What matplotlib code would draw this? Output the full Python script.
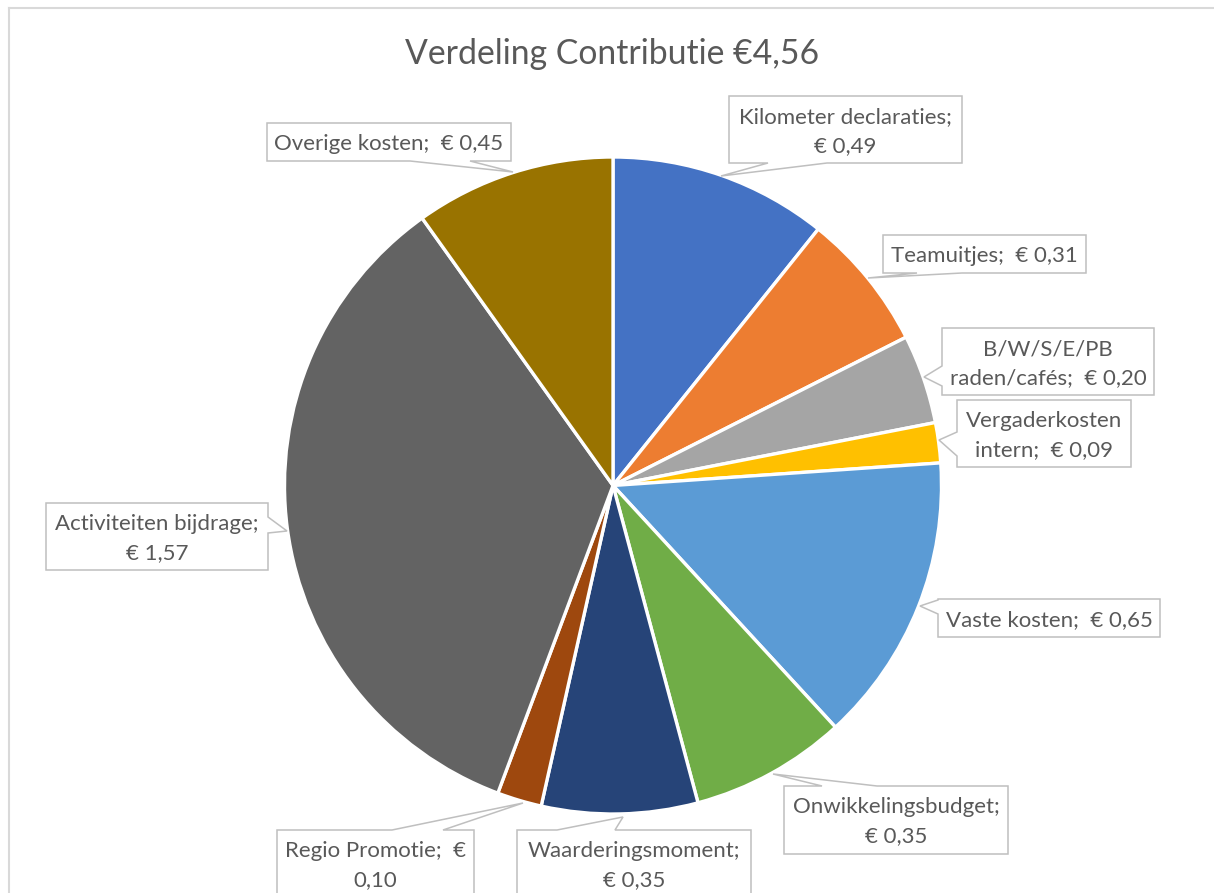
import matplotlib
matplotlib.use('Agg')
import matplotlib.pyplot as plt
from matplotlib.patches import Polygon

plt.rcParams['font.family'] = ['Lato', 'DejaVu Sans']

W, H = 1214, 893

title = 'Verdeling Contributie €4,56'
categories = ['Kilometer declaraties', 'Teamuitjes', 'B/W/S/E/PB raden/cafés',
              'Vergaderkosten intern', 'Vaste kosten', 'Onwikkelingsbudget',
              'Waarderingsmoment', 'Regio Promotie', 'Activiteiten bijdrage',
              'Overige kosten']
values = [0.49, 0.31, 0.20, 0.09, 0.65, 0.35, 0.35, 0.10, 1.57, 0.45]
colors = ['#4472C4', '#ED7D31', '#A5A5A5', '#FFC000', '#5B9BD5',
          '#70AD47', '#264478', '#9E480E', '#636363', '#997300']

# callout layout in pixels (y down): box, chars on first line, tail side, tail base, tip
layout = [
    dict(box=(729, 96, 962, 163), n1=22, side='bottom', base=(768, 827), tip=(721, 176)),
    dict(box=(883, 235, 1086, 273), n1=None, side='bottom', base=(917, 962), tip=(868, 278)),
    dict(box=(942, 328, 1154, 395), n1=10, side='left', base=(366, 386), tip=(924, 377)),
    dict(box=(957, 400, 1131, 467), n1=14, side='left', base=(432, 456), tip=(939, 440)),
    dict(box=(938, 599, 1160, 637), n1=None, side='left', base=(600, 614), tip=(920, 606)),
    dict(box=(784, 786, 1008, 854), n1=19, side='top', base=(822, 877), tip=(773, 774)),
    dict(box=(517, 830, 751, 905), n1=18, side='top', base=(557, 615), tip=(623, 817)),
    dict(box=(277, 830, 474, 905), n1=18, side='top', base=(392, 443), tip=(523, 803)),
    dict(box=(46, 503, 268, 570), n1=22, side='right', base=(517, 533), tip=(287, 531)),
    dict(box=(267, 123, 511, 161), n1=None, side='bottom', base=(410, 470), tip=(513, 172)),
]

txt_color = '#595959'
label_size = 16


def Y(y):
    return H - y


def callout_path(box, side, base, tip):
    x0, y0, x1, y1 = box
    pts = [(x0, y0)]
    if side == 'top':
        pts += [(base[0], y0), tip, (base[1], y0)]
    pts.append((x1, y0))
    if side == 'right':
        pts += [(x1, base[0]), tip, (x1, base[1])]
    pts.append((x1, y1))
    if side == 'bottom':
        pts += [(base[1], y1), tip, (base[0], y1)]
    pts.append((x0, y1))
    if side == 'left':
        pts += [(x0, base[1]), tip, (x0, base[0])]
    return [(x, Y(y)) for x, y in pts]


fig = plt.figure(figsize=(W / 100, H / 100), dpi=100)
ax = fig.add_axes([0, 0, 1, 1])

ax.pie(values, colors=colors, startangle=90, counterclock=False,
       center=(613, Y(485.5)), radius=328.5,
       wedgeprops=dict(edgecolor='white', linewidth=2.4))

ax.set_xlim(0, W)
ax.set_ylim(0, H)
ax.set_aspect('equal')
ax.axis('off')

# chart area border
ax.plot([8.5, 8.5], [Y(7.5), -5], color='#D9D9D9', lw=1.5, clip_on=False)
ax.plot([8.5, W + 5], [Y(7.5), Y(7.5)], color='#D9D9D9', lw=1.5, clip_on=False)

ax.text(612, Y(64), title, ha='center', va='baseline', fontsize=24.3, color=txt_color)

for cat, val, lay in zip(categories, values, layout):
    full = f'{cat};  € {val:.2f}'.replace('.', ',')
    ax.add_patch(Polygon(callout_path(lay['box'], lay['side'], lay['base'], lay['tip']),
                         closed=True, facecolor='white', edgecolor='#BFBFBF',
                         lw=1.1, joinstyle='miter', zorder=5))
    x0, y0, x1, y1 = lay['box']
    cx = (x0 + x1) / 2
    if lay['n1'] is None:
        lines = [full]
        basel = [y0 + 27]
    else:
        lines = [full[:lay['n1']].strip(), full[lay['n1']:].strip()]
        basel = [y0 + 27, y0 + 56]
    for line, b in zip(lines, basel):
        ax.text(cx, Y(b), line, ha='center', va='baseline', fontsize=label_size,
                color=txt_color, zorder=6)

fig.savefig('out.png', dpi=100)
